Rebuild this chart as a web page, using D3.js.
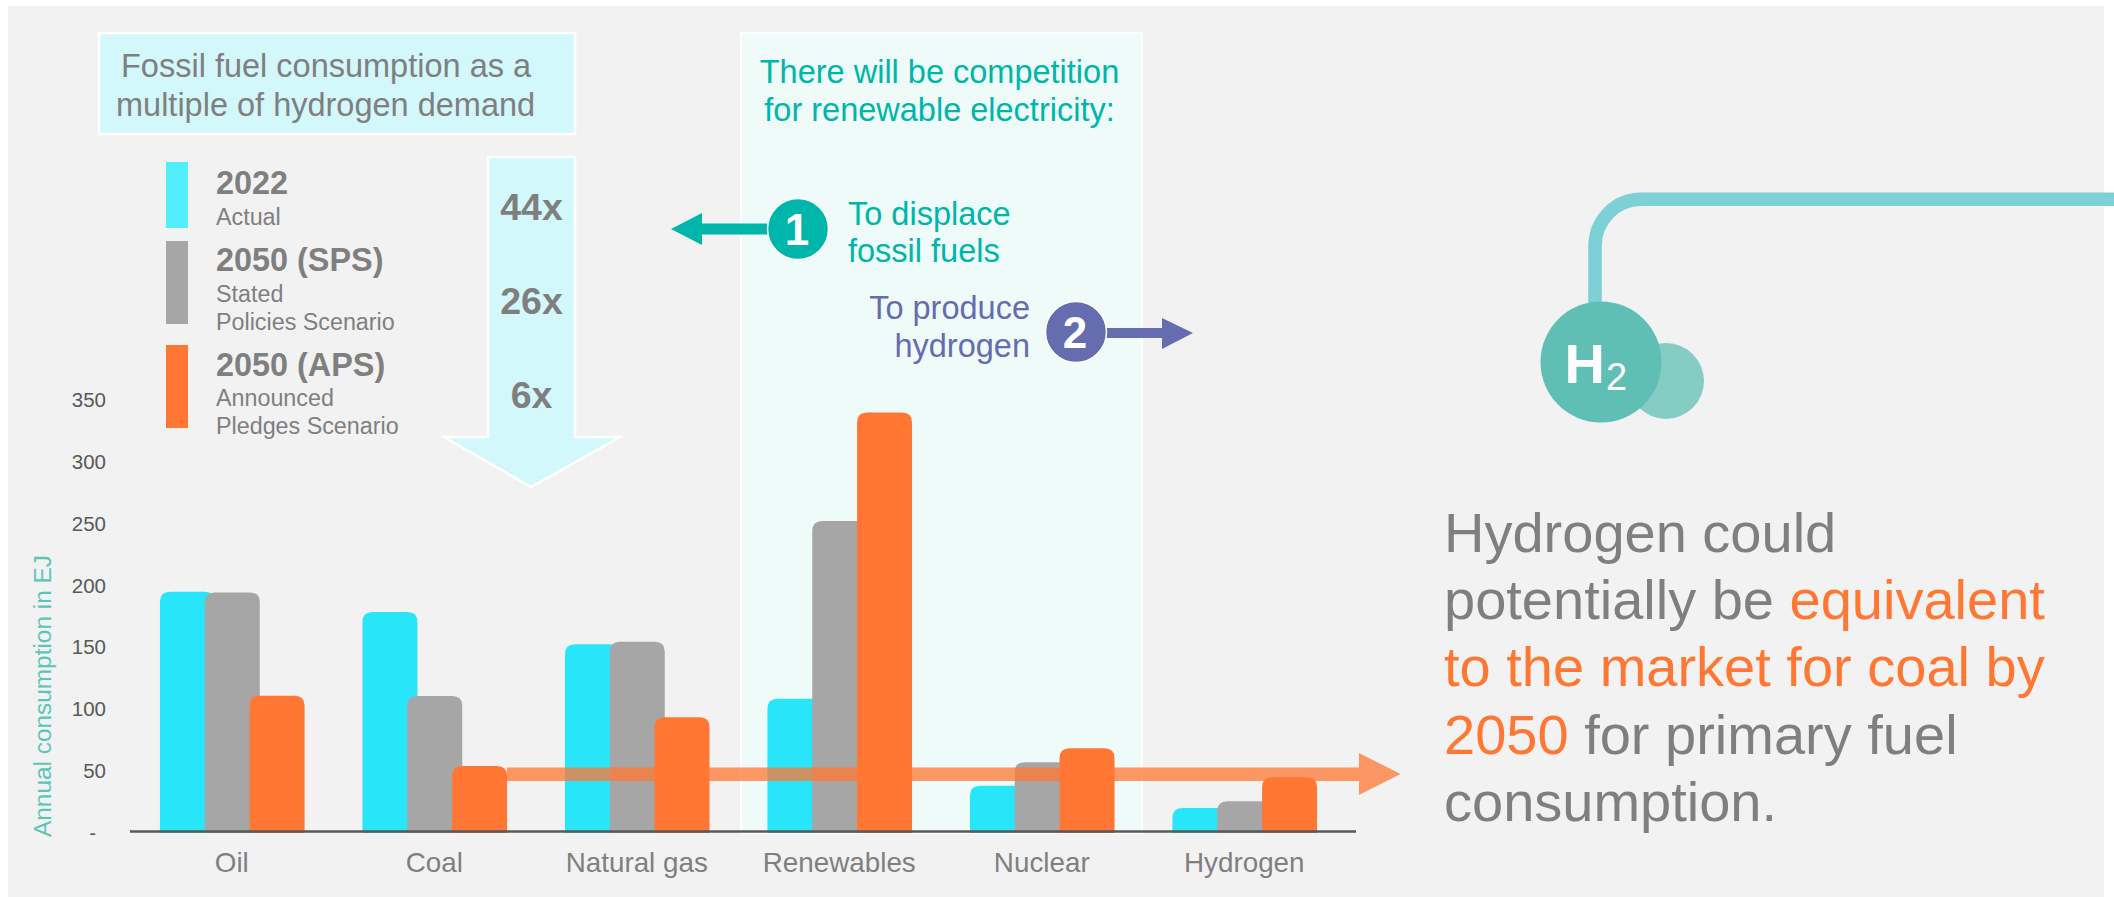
<!DOCTYPE html>
<html><head><meta charset="utf-8">
<script src="https://cdn.jsdelivr.net/npm/d3@7"></script>
<style>html,body{margin:0;padding:0;background:#fff;overflow:hidden}svg{display:block}text{font-family:"Liberation Sans",Arial,sans-serif}</style>
</head><body><svg id="c" width="2114" height="897"></svg>
<script>
const categories = ["Oil","Coal","Natural gas","Renewables","Nuclear","Hydrogen"];
const seriesNames = ["2022","2050 (SPS)","2050 (APS)"];
const values2022 = [195,178.7,152.5,108.6,38.2,20.2];
const valuesSPS  = [194.5,110.8,154.6,252.2,57.2,25.6];
const valuesAPS  = [111,54.2,93.5,339.8,68.5,45];
const yTicks = [0,50,100,150,200,250,300,350];
const multiples = ["44x","26x","6x"];

const CYAN="#29e5fa",GREY="#a6a6a6",ORANGE="#ff7733",TXT="#7f7f7f",TEAL="#00b5a9",PURPLE="#656cb0",PALE="#d2f8fc";
const svg=d3.select("#c");
const T=(s,x,y,size,fill,o={})=>svg.append("text").attr("x",x).attr("y",y).attr("font-size",size).attr("fill",fill)
  .attr("font-weight",o.bold?"bold":"normal").attr("text-anchor",o.anchor||"start").text(s);
const poly=(pts,fill,stroke)=>svg.append("polygon").attr("points",pts.map(p=>p.join(",")).join(" ")).attr("fill",fill)
  .attr("stroke",stroke||"none").attr("stroke-width",stroke?2.5:0);

svg.append("rect").attr("x",8).attr("y",6).attr("width",2096).attr("height",891).attr("fill","#f2f2f2");

// pale panels
svg.append("rect").attr("x",99).attr("y",33).attr("width",476).attr("height",101).attr("fill",PALE).attr("stroke","#fff").attr("stroke-width",2.5);
T("Fossil fuel consumption as a",121,77,32.5,TXT);
T("multiple of hydrogen demand",116,116,32.5,TXT);
svg.append("rect").attr("x",741).attr("y",33).attr("width",401).attr("height",800).attr("fill","#eefbf9").attr("stroke","#fff").attr("stroke-width",2);
T("There will be competition",939.5,83,32.5,TEAL,{anchor:"middle"});
T("for renewable electricity:",939.5,121,32.5,TEAL,{anchor:"middle"});

// down arrow
poly([[488,157],[575,157],[575,437],[620,437],[531,487],[444,437],[488,437]],PALE,"#fff");
multiples.forEach((m,i)=>T(m,531.5,[220,314,408][i],37.5,TXT,{bold:true,anchor:"middle"}));

// legend
[[162,228,"#52eefb"],[241,324,GREY],[345,428,ORANGE]].forEach(d=>svg.append("rect").attr("x",166).attr("y",d[0]).attr("width",22).attr("height",d[1]-d[0]).attr("fill",d[2]));
T(seriesNames[0],216,194,32.4,TXT,{bold:true});
T("Actual",216,225,23.3,TXT);
T(seriesNames[1],216,271,32.4,TXT,{bold:true});
T("Stated",216,302,23.3,TXT);
T("Policies Scenario",216,330,23.3,TXT);
T(seriesNames[2],216,376,32.4,TXT,{bold:true});
T("Announced",216,406,23.3,TXT);
T("Pledges Scenario",216,434,23.3,TXT);

// callouts
poly([[671,229],[702,213],[702,223.5],[770,223.5],[770,234.5],[702,234.5],[702,245]],TEAL);
svg.append("circle").attr("cx",798).attr("cy",229).attr("r",30.5).attr("fill",TEAL).attr("stroke","#fff").attr("stroke-width",1.5);
T("1",797,245,44,"#fff",{bold:true,anchor:"middle"});
T("To displace",848,225,32.5,TEAL);
T("fossil fuels",848,262,32.5,TEAL);
T("To produce",1030,319,32.5,PURPLE,{anchor:"end"});
T("hydrogen",1030,357,32.5,PURPLE,{anchor:"end"});
poly([[1100,328],[1162,328],[1162,318],[1193,333],[1162,349],[1162,338],[1100,338]],PURPLE);
svg.append("circle").attr("cx",1076).attr("cy",332).attr("r",30.5).attr("fill",PURPLE).attr("stroke","#fff").attr("stroke-width",1.5);
T("2",1075,348,44,"#fff",{bold:true,anchor:"middle"});

// scales
const x=d3.scaleBand().domain(categories).range([131,1346]);
const y=d3.scaleLinear().domain([0,350]).range([833,400]);
const sub=d3.scalePoint().domain(seriesNames).range([-44.8,44.8]);
const bw=55,rad=10;
const barPath=(cat,s,v)=>{
  const l=x(cat)+x.bandwidth()/2+sub(s)-bw/2,r=l+bw,t=y(v),b=y(0),q=Math.min(rad,(b-t));
  return `M${l},${b}V${t+q}Q${l},${t} ${l+q},${t}H${r-q}Q${r},${t} ${r},${t+q}V${b}Z`;
};
const drawBars=(s,vals,fill)=>svg.append("g").selectAll("path").data(categories).join("path")
  .attr("d",(c,i)=>barPath(c,s,vals[i])).attr("fill",fill);

drawBars(seriesNames[0],values2022,CYAN);
drawBars(seriesNames[1],valuesSPS,GREY);

// equivalence arrow
poly([[507,767.5],[1359,767.5],[1359,753],[1400.5,774],[1359,795],[1359,781],[507,781]],ORANGE).attr("opacity",.75);

drawBars(seriesNames[2],valuesAPS,ORANGE);

// baseline
svg.append("line").attr("x1",130).attr("x2",1356).attr("y1",831.5).attr("y2",831.5).attr("stroke","#595959").attr("stroke-width",2.5);

// axes
const ya=svg.append("g").attr("transform","translate(112,0)")
  .call(d3.axisLeft(y).tickValues(yTicks).tickSize(0).tickPadding(6).tickFormat(d=>d===0?"-":d));
ya.select(".domain").remove();
ya.selectAll("text").attr("font-size",20.5).attr("font-family","Liberation Sans").attr("fill","#595959")
  .attr("x",d=>d===0?-16:-6);
const xa=svg.append("g").attr("transform","translate(-0.5,833)").call(d3.axisBottom(x).tickSize(0));
xa.select(".domain").remove();
xa.selectAll("text").attr("font-size",27.8).attr("font-family","Liberation Sans").attr("fill",TXT).attr("y",39).attr("dy",0);

svg.append("text").attr("transform","translate(51,837) rotate(-90)").attr("font-size",23).attr("fill","#5cc6b6")
  .attr("textLength",282).attr("lengthAdjust","spacingAndGlyphs").text("Annual consumption in EJ");

// right-hand statement
const lines=[[["Hydrogen could",TXT]],[["potentially be ",TXT],["equivalent",ORANGE]],[["to the market for coal by",ORANGE]],[["2050",ORANGE],[" for primary fuel",TXT]],[["consumption.",TXT]]];
lines.forEach((ln,i)=>{
  const t=svg.append("text").attr("x",1444).attr("y",[552,619,686,754,821][i]).attr("font-size",56).attr("xml:space","preserve").style("white-space","pre");
  ln.forEach(s=>t.append("tspan").attr("fill",s[1]).text(s[0]));
});

// H2 molecule
svg.append("path").attr("d","M1595,320V246A46,47 0 0 1 1641,199.3H2114").attr("fill","none").attr("stroke","#7dd0d6").attr("stroke-width",13.5);
svg.append("circle").attr("cx",1666).attr("cy",381).attr("r",38).attr("fill","#85cdc4");
svg.append("circle").attr("cx",1601).attr("cy",362).attr("r",60.5).attr("fill","#60bfb5");
T("H",1564.5,383,56,"#fff",{bold:true});
T("2",1606,390,38,"#fff");
</script></body></html>
